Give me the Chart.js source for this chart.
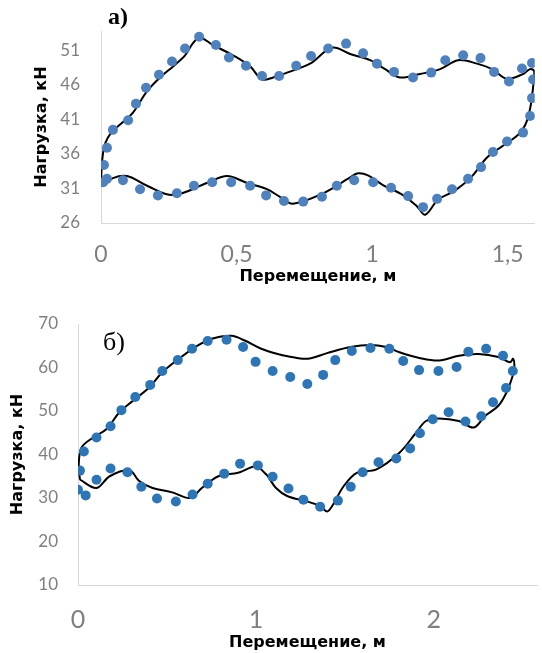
<!DOCTYPE html>
<html>
<head>
<meta charset="utf-8">
<script src="https://cdn.jsdelivr.net/npm/chart.js@4.4.1/dist/chart.umd.min.js"></script>
<style>
  html, body { margin: 0; padding: 0; background: #fff; }
  #wrap { position: relative; width: 542px; height: 653px; }
  canvas { position: absolute; left: 0; }
  #chartA { top: 0; }
  #chartB { top: 290px; }
</style>
</head>
<body>
<div id="wrap">
  <canvas id="chartA" width="542" height="290"></canvas>
  <canvas id="chartB" width="542" height="363"></canvas>
</div>
<script>
// ---- panel а) ----
const aTicksX = [0, 0.5, 1, 1.5];
const aTicksY = [26, 31, 36, 41, 46, 51];
const aDotsX = [0.011, 0.022, 0.044, 0.10, 0.129, 0.166, 0.214, 0.262, 0.31, 0.362, 0.424, 0.472, 0.535, 0.594, 0.657,
  0.72, 0.775, 0.838, 0.904, 0.967, 1.018, 1.081, 1.151, 1.218, 1.27, 1.336, 1.40, 1.45, 1.505, 1.553, 1.59,
  1.594, 1.59, 1.583, 1.557, 1.498, 1.446, 1.402, 1.354, 1.295, 1.24, 1.188, 1.133, 1.07, 1.004, 0.934, 0.87,
  0.815, 0.746, 0.675, 0.609, 0.55, 0.48, 0.41, 0.343, 0.28, 0.21, 0.144, 0.081, 0.022, 0.008];
const aDotsY = [34.4, 36.9, 39.5, 40.9, 43.3, 45.6, 47.5, 49.4, 51.3, 53.0, 51.8, 50.0, 48.8, 47.3, 47.3,
  48.8, 50.2, 51.3, 52.0, 50.6, 49.1, 47.9, 47.1, 47.8, 49.6, 50.3, 49.9, 47.9, 46.5, 48.4, 49.2,
  46.8, 44.1, 41.5, 39.1, 37.8, 36.3, 34.1, 32.4, 30.9, 29.5, 28.3, 29.9, 31.1, 31.9, 32.2, 31.4,
  29.8, 29.1, 29.2, 30.0, 31.4, 31.9, 31.9, 31.4, 30.3, 30.0, 30.9, 32.2, 32.4, 31.9];
const aLineX = [0.0, 0.004, 0.015, 0.04, 0.08, 0.118, 0.17, 0.218, 0.266, 0.31, 0.34, 0.365, 0.413, 0.487, 0.55,
  0.594, 0.635, 0.686, 0.771, 0.852, 0.919, 0.993, 1.048, 1.103, 1.177, 1.251, 1.317, 1.387, 1.443, 1.498,
  1.557, 1.583, 1.598, 1.594, 1.583, 1.565, 1.539, 1.483, 1.424, 1.369, 1.306, 1.244, 1.196, 1.166, 1.114,
  1.04, 0.985, 0.948, 0.919, 0.819, 0.708, 0.66, 0.612, 0.539, 0.465, 0.391, 0.266, 0.17, 0.096, 0.044,
  0.007, 0.0];
const aLineY = [31.5, 34.9, 37.5, 39.2, 40.6, 42.0, 45.1, 47.1, 48.7, 50.3, 52.1, 52.9, 51.8, 50.3, 48.7,
  46.8, 47.1, 47.8, 49.1, 51.4, 50.5, 49.6, 48.3, 47.1, 47.6, 48.3, 49.6, 49.1, 48.3, 46.9,
  47.6, 48.3, 48.0, 45.7, 42.6, 40.2, 38.8, 37.2, 35.5, 32.8, 30.7, 29.4, 27.2, 28.4, 30.05,
  31.5, 32.9, 33.2, 32.6, 30.3, 28.8, 29.8, 30.9, 31.8, 32.8, 31.8, 30.05, 31.4, 32.8, 32.5,
  31.4, 31.5];

// ---- panel б) ----
const bTicksX = [0, 1, 2];
const bTicksY = [10, 20, 30, 40, 50, 60, 70];
const bDotsX = [0, 0.043, 0.011, 0.033, 0.104, 0.183, 0.244, 0.322, 0.406, 0.474, 0.561, 0.641, 0.729, 0.835,
  0.928, 0.998, 1.094, 1.193, 1.289, 1.378, 1.446, 1.539, 1.644, 1.75, 1.828, 1.917, 2.026, 2.128, 2.194,
  2.294, 2.389, 2.444, 2.406, 2.333, 2.267, 2.178, 2.083, 1.994, 1.922, 1.867, 1.789, 1.689, 1.6, 1.533,
  1.461, 1.361, 1.267, 1.183, 1.094, 1.011, 0.911, 0.822, 0.729, 0.644, 0.55, 0.444, 0.356, 0.278, 0.183, 0.104];
const bDotsY = [31.9, 30.6, 36.3, 40.7, 43.9, 46.5, 50.2, 53.2, 56.0, 59.2, 61.7, 64.3, 66.1, 66.4,
  64.7, 61.3, 59.2, 57.8, 56.2, 58.3, 61.7, 63.8, 64.5, 64.3, 61.5, 59.4, 59.2, 60.1, 63.6,
  64.3, 62.7, 59.2, 55.3, 52.0, 48.8, 47.6, 49.7, 48.1, 44.9, 41.4, 39.1, 38.2, 35.9, 32.6,
  29.4, 28.0, 29.6, 32.2, 34.9, 37.5, 37.9, 35.6, 33.3, 30.8, 29.2, 29.9, 32.6, 35.9, 36.8, 34.2];
const bLineX = [0.011, 0.004, 0.02, 0.085, 0.159, 0.233, 0.307, 0.4, 0.474, 0.567, 0.659, 0.752, 0.863, 0.937,
  1.03, 1.122, 1.178, 1.289, 1.4, 1.53, 1.641, 1.733, 1.807, 1.919, 2.03, 2.141, 2.252, 2.363, 2.428, 2.446,
  2.452, 2.437, 2.409, 2.363, 2.289, 2.224, 2.141, 2.03, 1.956, 1.9, 1.807, 1.678, 1.567, 1.493, 1.428, 1.4,
  1.363, 1.289, 1.178, 1.113, 1.067, 1.048, 1.002, 0.9, 0.789, 0.696, 0.631, 0.53, 0.419, 0.344, 0.289,
  0.178, 0.104, 0.011];
const bLineY = [34.2, 37.5, 41.6, 43.9, 45.8, 49.7, 52.3, 55.4, 58.9, 62.0, 64.7, 66.6, 67.3, 66.2,
  64.3, 63.1, 62.6, 62.0, 63.3, 64.7, 65.2, 64.7, 63.5, 62.2, 61.6, 62.7, 63.1, 62.4, 61.2, 62.0,
  59.7, 57.3, 54.3, 51.2, 48.9, 46.2, 47.7, 48.3, 47.7, 45.0, 40.4, 36.6, 35.8, 32.7, 28.1, 26.9,
  28.1, 29.2, 30.4, 32.3, 35.0, 35.8, 37.3, 35.8, 35.0, 32.3, 30.0, 31.3, 32.3, 33.9, 36.4,
  35.0, 32.3, 34.2];

const xTitle = 'Перемещение, м';
const yTitle = 'Нагрузка, кН';

const toPoints = (xs, ys) => xs.map((x, i) => ({ x: x, y: ys[i] }));

// draws the panel letter (а, б) inside the plot
const panelLabel = {
  id: 'panelLabel',
  afterDraw(chart, args, opts) {
    const ctx = chart.ctx;
    ctx.save();
    ctx.font = opts.font;
    ctx.fillStyle = '#000';
    ctx.textAlign = 'center';
    ctx.textBaseline = 'middle';
    ctx.fillText(opts.text, opts.x, opts.y);
    ctx.restore();
  }
};

function makeChart(id, cfg) {
  const ctx = document.getElementById(id).getContext('2d');
  new Chart(ctx, {
    type: 'scatter',
    data: {
      datasets: [
        {
          data: toPoints(cfg.lineX, cfg.lineY),
          showLine: true,
          borderColor: '#000',
          borderWidth: 2,
          tension: 0.35,
          pointRadius: 0,
          fill: false,
          order: 2
        },
        {
          data: toPoints(cfg.dotsX, cfg.dotsY),
          backgroundColor: cfg.dotColor,
          borderWidth: 0,
          pointRadius: 5,
          order: 1
        }
      ]
    },
    options: {
      responsive: false,
      animation: false,
      layout: { padding: cfg.padding },
      plugins: {
        legend: { display: false },
        tooltip: { enabled: false },
        panelLabel: cfg.label
      },
      scales: {
        x: {
          min: cfg.xMin, max: cfg.xMax,
          grid: { display: false, drawTicks: false },
          border: { display: true, color: '#d9d9d9', width: 1 },
          afterBuildTicks: s => { s.ticks = cfg.ticksX.map(v => ({ value: v })); },
          afterFit: s => { s.height = cfg.xHeight; },
          ticks: {
            color: '#7f7f7f',
            font: { family: 'Lato', size: cfg.xFont },
            padding: cfg.xPad,
            maxRotation: 0,
            callback: v => String(v).replace('.', ',')
          },
          title: {
            display: true, text: xTitle, color: '#000',
            font: { family: 'DejaVu Sans', size: 16, weight: 'bold' },
            padding: { top: 0, bottom: cfg.xTitlePad }
          }
        },
        y: {
          min: cfg.yMin, max: cfg.yMax,
          grid: { display: false, drawTicks: false },
          border: { display: true, color: '#d9d9d9', width: 1 },
          afterBuildTicks: s => { s.ticks = cfg.ticksY.map(v => ({ value: v })); },
          afterFit: s => { s.width = cfg.yWidth; },
          ticks: {
            color: '#7f7f7f',
            font: { family: 'Lato', size: 17 },
            padding: cfg.yPad
          },
          title: {
            display: true, text: yTitle, color: '#000',
            font: { family: 'DejaVu Sans', size: 16, weight: 'bold' },
            padding: { top: cfg.yTitlePad, bottom: 0 }
          }
        }
      }
    },
    plugins: [panelLabel]
  });
}

makeChart('chartA', {
  lineX: aLineX, lineY: aLineY, dotsX: aDotsX, dotsY: aDotsY,
  ticksX: aTicksX, ticksY: aTicksY,
  xMin: 0, xMax: 1.6, yMin: 26, yMax: 53.8,
  dotColor: '#4f81bd',
  padding: { left: 0, right: 7, top: 17, bottom: 0 },
  xHeight: 67, yWidth: 101,
  xFont: 23, xPad: 18, yPad: 21,
  xTitlePad: 4, yTitlePad: 32,
  label: { text: 'а)', font: 'bold 24px "Liberation Serif"', x: 118, y: 18 }
});

makeChart('chartB', {
  lineX: bLineX, lineY: bLineY, dotsX: bDotsX, dotsY: bDotsY,
  ticksX: bTicksX, ticksY: bTicksY,
  xMin: 0, xMax: 2.58, yMin: 10, yMax: 70,
  dotColor: '#2e75b6',
  padding: { left: 0, right: 0, top: 34, bottom: 0 },
  xHeight: 68, yWidth: 78,
  xFont: 25, xPad: 20, yPad: 20,
  xTitlePad: 1, yTitlePad: 8,
  label: { text: 'б)', font: '26px "Liberation Serif"', x: 114, y: 343 - 290 }
});
</script>
</body>
</html>
